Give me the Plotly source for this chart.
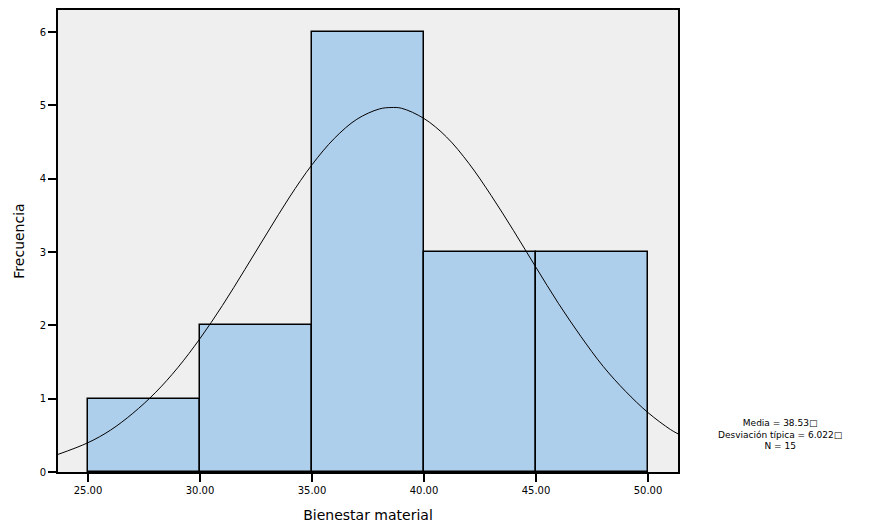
import plotly.graph_objects as go

# histogram bins (Bienestar material) and frequencies
bin_left = [25, 30, 35, 40, 45]
bin_width = 5
frecuencia = [1, 2, 6, 3, 3]

# normal curve
curve_x = [23.66, 25, 26, 27, 28, 29, 30, 31, 32, 33, 34, 35, 36, 37, 38, 38.53,
           39, 40, 41, 42, 43, 44, 45, 46, 47, 48, 49, 50, 51, 51.34]
curve_y = [0.24, 0.40, 0.57, 0.80, 1.08, 1.42, 1.82, 2.27, 2.76, 3.26, 3.75, 4.19, 4.55, 4.81, 4.95, 4.97,
           4.96, 4.82, 4.57, 4.21, 3.77, 3.29, 2.79, 2.30, 1.85, 1.44, 1.10, 0.81, 0.58, 0.52]

x_ticks = [25, 30, 35, 40, 45, 50]
y_ticks = [0, 1, 2, 3, 4, 5, 6]

stats_text = "Media = 38.53□<br>Desviación típica = 6.022□<br>N = 15"

fig = go.Figure()
fig.add_trace(go.Bar(
    x=[b + bin_width / 2 for b in bin_left], y=frecuencia, width=bin_width,
    marker=dict(color='#AECFEC', line=dict(color='black', width=1.5)),
    showlegend=False, hoverinfo='skip'))
fig.add_trace(go.Scatter(
    x=curve_x, y=curve_y, mode='lines', line=dict(color='black', width=1, shape='spline'),
    showlegend=False, hoverinfo='skip'))

# stats box to the right of the plot
fig.add_annotation(x=1.165, y=0.082, xref='paper', yref='paper', text=stats_text, showarrow=False,
                   xanchor='center', yanchor='middle',
                   font=dict(family='DejaVu Sans', size=9, color='black'), align='center')

axis_font = dict(family='DejaVu Sans', size=10, color='black')
fig.update_layout(
    width=882, height=519,  # page body adds 8px offset
    margin=dict(l=50, r=212, t=0, b=55),
    paper_bgcolor='white', plot_bgcolor='#EFEFEF',
    bargap=0,
    xaxis=dict(range=[23.66, 51.34], tickvals=x_ticks, tickformat='.2f', ticks='outside',
               ticklen=8, tickwidth=2, tickcolor='black', showgrid=False, zeroline=False,
               showline=True, linecolor='black', linewidth=2, mirror=True, tickfont=axis_font,
               title=dict(text='Bienestar material', font=dict(family='DejaVu Sans', size=14, color='black'),
                          standoff=15)),
    yaxis=dict(range=[0, 6.3], tickvals=y_ticks, ticks='outside', ticklen=8, tickwidth=2,
               tickcolor='black', showgrid=False, zeroline=False, showline=True, linecolor='black',
               linewidth=2, mirror=True, tickfont=axis_font,
               title=dict(text='Frecuencia', font=dict(family='DejaVu Sans', size=14, color='black'),
                          standoff=12)),
)

fig.write_html("out.html")
